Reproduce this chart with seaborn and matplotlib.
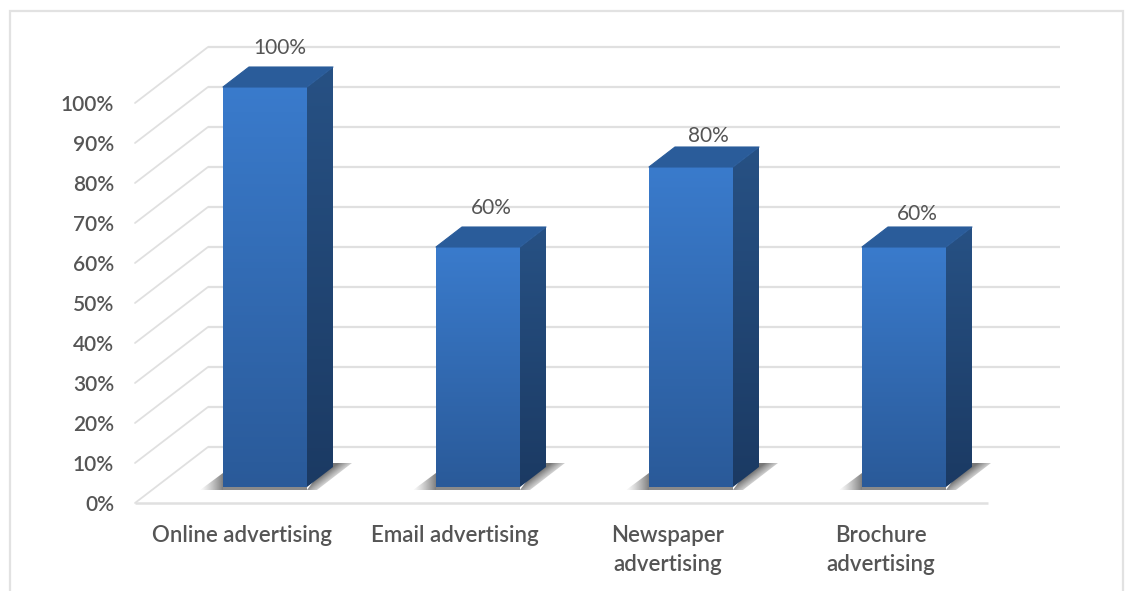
import numpy as np
import pandas as pd
import matplotlib
matplotlib.use("Agg")
import matplotlib.pyplot as plt
from matplotlib.colors import LinearSegmentedColormap, to_rgb
from matplotlib.patches import Polygon, Rectangle
import seaborn as sns

# Survey results
channels = ["Online advertising", "Email advertising",
            "Newspaper\nadvertising", "Brochure\nadvertising"]
shares = [100, 60, 80, 60]
axis_ticks = [0, 10, 20, 30, 40, 50, 60, 70, 80, 90, 100]

# Label nudges in pixels, relative to the front top centre of each bar
label_dx = [15, 13, 17, 13]
label_dy = [39, 39, 31, 33]

W, H = 1125, 591
PX_X = 1 / 213          # one pixel in category units
PX_Y = 1 / 4            # one pixel in percent units

GRID = "#e0e0e0"
TEXT = "#555555"
FONT = ["Lato", "DejaVu Sans"]

sns.set_theme(style="white")
plt.rcParams["font.family"] = FONT

# Axes box runs from the frame's lowest tick (-4 on the bar plane) up to 100
fig = plt.figure(figsize=(W / 100, H / 100), dpi=100, facecolor="white")
ax = fig.add_axes([158.5 / W, (H - 503) / H, 852 / W, 416 / H])
ax.patch.set_alpha(0)

df = pd.DataFrame({"channel": channels, "share": shares})
sns.barplot(data=df, x="channel", y="share", width=84 * PX_X, ax=ax,
            color="#3572ba", saturation=1, zorder=3)
bars = list(ax.patches)


def vertical_fill(poly, x0, x1, y0, y1, top, bottom, zorder):
    """Paint a polygon with a top-to-bottom colour ramp."""
    poly.set(facecolor="none", edgecolor="none", clip_on=False, zorder=zorder)
    ax.add_patch(poly)
    cmap = LinearSegmentedColormap.from_list("ramp", [bottom, top])
    im = ax.imshow(np.linspace(1, 0, 128)[:, None], cmap=cmap, aspect="auto",
                   extent=(x0, x1, y0, y1), zorder=zorder, vmin=0, vmax=1)
    im.set_clip_box(fig.bbox)
    im.set_clip_path(poly)


def floor_shadow(points, anchor_x, slope, reach, strength, zorder=2):
    """Shadow on the floor that fades with horizontal distance from a slanted edge.

    The edge passes through (anchor_x, 0) and moves `slope` category units per
    percent; `reach` is signed, in category units, towards the faded side.
    """
    poly = Polygon(points, closed=True, facecolor="none", edgecolor="none",
                   clip_on=False, zorder=zorder)
    ax.add_patch(poly)
    xs = [p[0] for p in points]
    ys = [p[1] for p in points]
    gx, gy = np.meshgrid(np.linspace(min(xs), max(xs), 96),
                         np.linspace(max(ys), min(ys), 96))
    u = (gx - (anchor_x + slope * gy)) / reach
    rgba = np.zeros((96, 96, 4))
    rgba[..., :3] = to_rgb("#3c3c3c")
    rgba[..., 3] = strength * np.clip(1 - u, 0, 1) ** 1.3
    im = ax.imshow(rgba, aspect="auto", zorder=zorder,
                   extent=(min(xs), max(xs), min(ys), max(ys)))
    im.set_clip_box(fig.bbox)
    im.set_clip_path(poly)


# Back wall, side wall and floor of the 3D frame
tick_arr = np.array(axis_ticks, dtype=float)
front_x, back_x = -0.5 + (135 - 158.5) * PX_X, -0.5 + (208 - 158.5) * PX_X
end_x, floor_end_x = -0.5 + (1060 - 158.5) * PX_X, -0.5 + (988 - 158.5) * PX_X
front_off, back_off = -16 * PX_Y, 40 * PX_Y
for t in tick_arr:
    ax.plot([back_x, end_x], [t + back_off] * 2, color=GRID, lw=1.6,
            clip_on=False, zorder=1, solid_capstyle="butt")
    ax.plot([front_x, back_x], [t + front_off, t + back_off], color=GRID, lw=1.3,
            clip_on=False, zorder=1)
ax.plot([front_x, floor_end_x], [front_off] * 2, color=GRID, lw=1.8,
        clip_on=False, zorder=1, solid_capstyle="butt")

# Turn each flat bar into a box: gradient front, dark side, top cap and shadow
depth_x, depth_y = 26 * PX_X, 20 * PX_Y
slant = depth_x / depth_y
for bar in bars:
    x0, w, h = bar.get_x(), bar.get_width(), bar.get_height()
    x1 = x0 + w
    bar.set(facecolor="none", edgecolor="none")

    low = -3 * PX_Y
    # Right of the box, left of the box, and the thin strip under its front edge
    floor_shadow([(x1, low), (x1 + 10 * PX_X, low),
                  (x1 + 45 * PX_X, 24 * PX_Y), (x1 + 20 * PX_X, 24 * PX_Y)],
                 x1, slant, 24 * PX_X, 0.7)
    floor_shadow([(x0 - 23 * PX_X, low), (x0, 14 * PX_Y), (x0, low)],
                 x0, 0.0, -24 * PX_X, 0.65)
    ax.add_patch(Rectangle((x0, low), w, -low, facecolor="#3c3c3c", alpha=0.6,
                           edgecolor="none", clip_on=False, zorder=2))

    front = Polygon([(x0, 0), (x1, 0), (x1, h), (x0, h)], closed=True)
    vertical_fill(front, x0, x1, 0, h, "#3a7bcc", "#2a5a99", 4)

    side = Polygon([(x1, 0), (x1 + depth_x, depth_y), (x1 + depth_x, h + depth_y), (x1, h)],
                   closed=True)
    vertical_fill(side, x1, x1 + depth_x, 0, h + depth_y, "#275184", "#1b3a63", 4)

    cap = Polygon([(x0, h), (x1, h), (x1 + depth_x, h + depth_y), (x0 + depth_x, h + depth_y)],
                  closed=True, facecolor="#2a5c9a", edgecolor="#2a5c9a", lw=0.8,
                  joinstyle="round", clip_on=False, zorder=4)
    ax.add_patch(cap)

# Value labels
for i, (bar, value) in enumerate(zip(bars, shares)):
    ax.annotate(f"{value}%", (bar.get_x() + bar.get_width() / 2, value),
                xytext=(label_dx[i] * 0.72, label_dy[i] * 0.72),
                textcoords="offset points", ha="center", va="center",
                fontsize=15, color=TEXT, zorder=6, annotation_clip=False)

ax.set_xlabel("")
ax.set_ylabel("")

# Axis labels sit on the outer edge of the frame, not on the bar plane
ax.set_yticks(tick_arr + front_off, [f"{int(t)}%" for t in tick_arr])
ax.set_xticks(np.arange(len(channels)) - 23 * PX_X, channels)
ax.tick_params(axis="y", length=0, pad=32, labelsize=15, labelcolor=TEXT)
ax.tick_params(axis="x", length=0, pad=15.5, labelsize=16, labelcolor=TEXT)
for lab in ax.get_xticklabels():
    lab.set_linespacing(1.47)
    lab.set_fontweight("semibold")
for lab in ax.get_yticklabels():
    lab.set_fontweight("semibold")
sns.despine(ax=ax, left=True, bottom=True)

ax.set_xlim(-0.5, 3.5)
ax.set_ylim(front_off, 100)

# Thin frame around the chart, running off the lower edge
fig.add_artist(Rectangle((10 / W, -10 / H), 1113 / W, (H - 11 + 10) / H,
                         transform=fig.transFigure, facecolor="none",
                         edgecolor="#e2e2e2", lw=1.6, zorder=0))

fig.savefig("out.png", dpi=100)
